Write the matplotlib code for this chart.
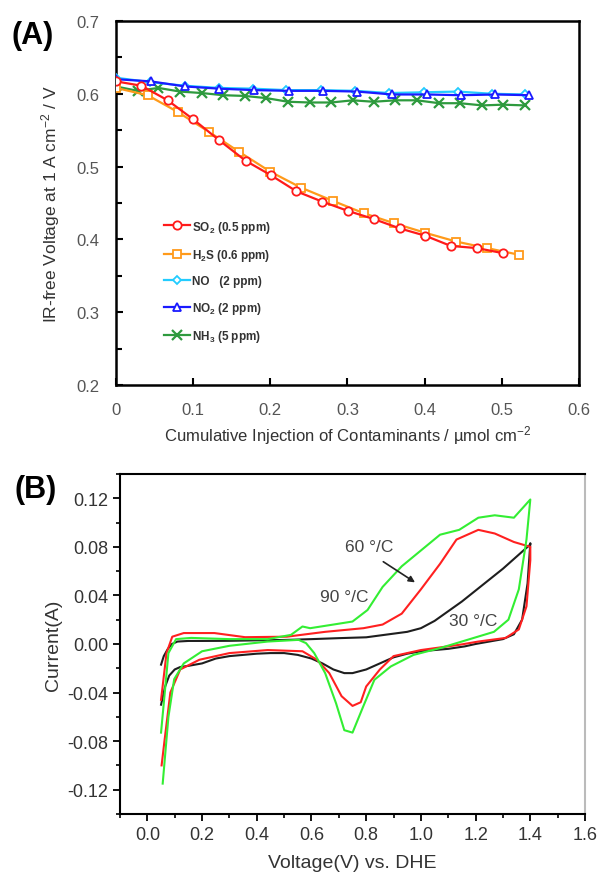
import numpy as np
import matplotlib
matplotlib.use("Agg")
import matplotlib.pyplot as plt
from matplotlib.ticker import FixedLocator, MultipleLocator, FuncFormatter

plt.rcParams['font.family'] = ['Liberation Sans', 'DejaVu Sans']
plt.rcParams['mathtext.fontset'] = 'custom'
plt.rcParams['mathtext.rm'] = 'Liberation Sans'
plt.rcParams['mathtext.it'] = 'Liberation Sans:italic'
plt.rcParams['mathtext.bf'] = 'Liberation Sans:bold'

# ---- panel A : IR-free voltage vs cumulative injection ----
so2_x = [0, 0.033, 0.067, 0.100, 0.134, 0.168, 0.201, 0.234, 0.267, 0.301, 0.334, 0.368, 0.401, 0.434, 0.468, 0.502]
so2_y = [0.617, 0.611, 0.591, 0.565, 0.536, 0.508, 0.488, 0.466, 0.452, 0.439, 0.428, 0.415, 0.405, 0.391, 0.388, 0.381]

h2s_x = [0, 0.041, 0.080, 0.120, 0.160, 0.200, 0.240, 0.281, 0.321, 0.361, 0.401, 0.441, 0.481, 0.522]
h2s_y = [0.608, 0.598, 0.575, 0.548, 0.520, 0.493, 0.471, 0.453, 0.436, 0.422, 0.409, 0.397, 0.388, 0.379]

no_x = [0, 0.044, 0.089, 0.133, 0.177, 0.221, 0.266, 0.310, 0.354, 0.399, 0.443, 0.487, 0.530]
no_y = [0.622, 0.616, 0.611, 0.608, 0.607, 0.605, 0.605, 0.604, 0.601, 0.602, 0.603, 0.600, 0.599]

no2_x = [0, 0.045, 0.090, 0.134, 0.179, 0.224, 0.269, 0.313, 0.358, 0.403, 0.447, 0.492, 0.536]
no2_y = [0.620, 0.617, 0.610, 0.607, 0.605, 0.604, 0.604, 0.603, 0.599, 0.599, 0.598, 0.599, 0.598]

nh3_x = [0, 0.028, 0.055, 0.083, 0.111, 0.139, 0.167, 0.195, 0.223, 0.251,
         0.279, 0.307, 0.334, 0.362, 0.390, 0.419, 0.446, 0.475, 0.502, 0.530]
nh3_y = [0.610, 0.604, 0.608, 0.603, 0.601, 0.598, 0.597, 0.594, 0.589, 0.588,
         0.588, 0.591, 0.589, 0.591, 0.591, 0.587, 0.587, 0.584, 0.585, 0.584]

# ---- panel B : cyclic voltammograms ----
black_v = [0.05, 0.06, 0.075, 0.09, 0.11, 0.15, 0.2, 0.3, 0.4, 0.5, 0.6, 0.7, 0.8, 0.9, 0.95,
           1.0, 1.05, 1.1, 1.15, 1.2, 1.25, 1.3, 1.35, 1.4, 1.4, 1.39, 1.37, 1.34, 1.3, 1.25, 1.2,
           1.16, 1.1, 1.05, 1.0, 0.95, 0.9, 0.85, 0.8, 0.75, 0.72, 0.68, 0.64, 0.6, 0.55, 0.5, 0.45,
           0.4, 0.3, 0.25, 0.2, 0.15, 0.12, 0.1, 0.08, 0.065, 0.055, 0.05]
black_i = [-0.017, -0.010, -0.004, 0.000, 0.002, 0.0025, 0.0025, 0.0026, 0.003, 0.0033, 0.004, 0.0048,
           0.0055, 0.0085, 0.010, 0.013, 0.019, 0.027, 0.035, 0.044, 0.053, 0.062, 0.072, 0.082,
           0.083, 0.050, 0.020, 0.008, 0.004, 0.002, 0.0, -0.002, -0.004, -0.005, -0.006, -0.008,
           -0.011, -0.016, -0.021, -0.024, -0.024, -0.021, -0.016, -0.012, -0.009, -0.0075, -0.0075,
           -0.008, -0.010, -0.012, -0.016, -0.018, -0.019, -0.021, -0.026, -0.035, -0.045, -0.05]

red_v = [0.05, 0.07, 0.091, 0.133, 0.245, 0.357, 0.51, 0.65, 0.79, 0.86, 0.93, 1.0, 1.07, 1.13,
         1.21, 1.27, 1.34, 1.4, 1.4, 1.386, 1.358, 1.31, 1.21, 1.14, 1.0, 0.9, 0.85, 0.8, 0.78,
         0.75, 0.71, 0.665, 0.62, 0.567, 0.44, 0.30, 0.19, 0.12, 0.084, 0.063, 0.052]
red_i = [-0.046, -0.0075, 0.006, 0.009, 0.009, 0.0056, 0.006, 0.010, 0.013, 0.016, 0.025, 0.045,
         0.066, 0.086, 0.094, 0.091, 0.084, 0.080, 0.069, 0.031, 0.012, 0.005, 0.002, -0.0007,
         -0.005, -0.010, -0.021, -0.035, -0.048, -0.051, -0.043, -0.024, -0.013, -0.006, -0.005,
         -0.0075, -0.013, -0.021, -0.040, -0.079, -0.100]

green_v = [0.05, 0.077, 0.105, 0.16, 0.30, 0.44, 0.525, 0.567, 0.595, 0.68, 0.75, 0.805, 0.86,
           0.93, 1.0, 1.07, 1.14, 1.21, 1.27, 1.34, 1.40, 1.386, 1.358, 1.32, 1.267, 1.17, 1.07,
           0.973, 0.89, 0.83, 0.79, 0.75, 0.72, 0.69, 0.65, 0.61, 0.58, 0.553, 0.44, 0.30, 0.20,
           0.133, 0.098, 0.077, 0.056]
green_i = [-0.073, -0.0075, 0.004, 0.005, 0.004, 0.004, 0.0075, 0.0144, 0.013, 0.016, 0.0185,
           0.028, 0.047, 0.064, 0.077, 0.090, 0.094, 0.104, 0.106, 0.104, 0.119, 0.086, 0.045,
           0.020, 0.010, 0.0034, -0.0034, -0.009, -0.0185, -0.0295, -0.051, -0.073, -0.071,
           -0.049, -0.024, -0.0075, 0.0007, 0.0034, 0.002, -0.0015, -0.006, -0.016, -0.029,
           -0.060, -0.115]

fig = plt.figure(figsize=(6.01, 8.78), dpi=100)
gray = '#555555'

# panel A
axA = fig.add_axes([0.193, 0.5604, 0.770, 0.4146])
mk = dict(markersize=6, markerfacecolor='white', markeredgewidth=1.3, linewidth=1.6)
axA.plot(so2_x, so2_y, '-o', color='#ff1a1a', label=r'SO$_\mathbf{2}$ (0.5 ppm)', zorder=5, **mk)
axA.plot(h2s_x, h2s_y, '-s', color='#ff9a1a', label=r'H$_\mathbf{2}$S (0.6 ppm)', zorder=4, **mk)
axA.plot(no_x, no_y, '-D', color='#22ccff', label='NO   (2 ppm)', zorder=3,
         markersize=4.5, markerfacecolor='white', markeredgewidth=1.3, linewidth=1.6)
axA.plot(no2_x, no2_y, '-^', color='#1a1aff', label=r'NO$_\mathbf{2}$ (2 ppm)', zorder=4, **mk)
axA.plot(nh3_x, nh3_y, '-x', color='#2e9a3e', label=r'NH$_\mathbf{3}$ (5 ppm)', zorder=2,
         markersize=7, markeredgewidth=1.6, linewidth=1.6)

axA.set_xlim(0, 0.6)
axA.set_ylim(0.2, 0.7)
axA.xaxis.set_major_locator(MultipleLocator(0.1))
axA.yaxis.set_major_locator(MultipleLocator(0.1))
axA.yaxis.set_minor_locator(MultipleLocator(0.05))
axA.xaxis.set_major_formatter(FuncFormatter(lambda v, p: '0' if abs(v) < 1e-9 else f'{v:.1f}'))
axA.tick_params(direction='in', length=5, width=1.5, labelsize=12, labelcolor=gray, pad=12,
                top=False, right=False)
axA.tick_params(which='minor', direction='in', length=4, width=1.5, right=False)
for s in axA.spines.values():
    s.set_linewidth(1.8)
axA.set_ylabel(r'IR-free Voltage at 1 A cm$^{-2}$ / V', fontsize=12.5, color='#333333', labelpad=10)
axA.set_xlabel(r'Cumulative Injection of Contaminants / µmol cm$^{-2}$', fontsize=12,
               color='#333333', labelpad=5)
leg = axA.legend(loc='upper left', bbox_to_anchor=(0.085, 0.48), frameon=False,
                 prop={'size': 8.5, 'weight': 'bold'}, labelspacing=1.05, handlelength=2.2,
                 handletextpad=0.2, borderpad=0.2)
for t in leg.get_texts():
    t.set_color('#333333')
fig.text(0.055, 0.959, '(A)', fontsize=22, fontweight='bold', ha='center', va='center')

# panel B
axB = fig.add_axes([0.1997, 0.0718, 0.7737, 0.3872])
axB.plot(black_v, black_i, color='#1e1e1e', linewidth=1.5)
axB.plot(red_v, red_i, color='#ff2020', linewidth=1.5)
axB.plot(green_v, green_i, color='#33ee33', linewidth=1.5)
axB.set_xlim(-0.1, 1.6)
axB.set_ylim(-0.14, 0.14)
axB.xaxis.set_major_locator(MultipleLocator(0.2))
axB.xaxis.set_minor_locator(MultipleLocator(0.1))
axB.yaxis.set_major_locator(FixedLocator([-0.12, -0.08, -0.04, 0.0, 0.04, 0.08, 0.12]))
axB.yaxis.set_minor_locator(MultipleLocator(0.02))
axB.xaxis.set_major_formatter(FuncFormatter(lambda v, p: f'{v:.1f}'))
axB.yaxis.set_major_formatter(FuncFormatter(lambda v, p: f'{v:.2f}'))
axB.tick_params(direction='out', length=5, width=1.3, labelsize=13, labelcolor='#333333',
                top=False, right=False)
axB.tick_params(which='minor', direction='out', length=3, width=1.2, top=False, right=False)
for s in axB.spines.values():
    s.set_linewidth(1.5)
axB.spines['right'].set_color('#bbbbbb')
axB.set_xlabel('Voltage(V) vs. DHE', fontsize=14, color='#333333', labelpad=8)
axB.set_ylabel('Current(A)', fontsize=14, color='#333333', labelpad=4)
axB.text(0.81, 0.080, '60 °/C', fontsize=12.5, color='#444444', ha='center', va='center')
axB.text(0.72, 0.039, '90 °/C', fontsize=12.5, color='#444444', ha='center', va='center')
axB.text(1.19, 0.019, '30 °/C', fontsize=12.5, color='#444444', ha='center', va='center')
axB.annotate('', xy=(0.987, 0.0495), xytext=(0.854, 0.069),
             arrowprops=dict(arrowstyle='-|>', color='#222222', lw=1.2, mutation_scale=9))
fig.text(0.06, 0.442, '(B)', fontsize=22, fontweight='bold', ha='center', va='center')

fig.savefig('out.png', dpi=100)
